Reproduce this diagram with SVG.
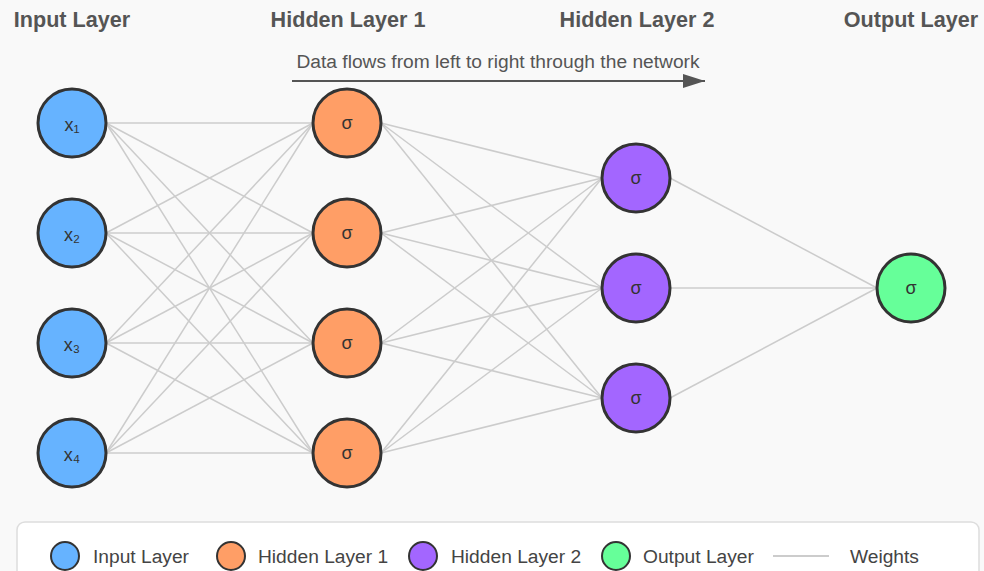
<svg xmlns="http://www.w3.org/2000/svg" width="984" height="571" viewBox="0 0 984 571">
  <defs>
    <style>
      .bg { fill: #f9f9f9; }
      .title { font-family: "Liberation Sans", Arial, sans-serif; font-size: 21.6px; font-weight: bold; fill: #555555; text-anchor: middle; }
      .flow { font-family: "Liberation Sans", Arial, sans-serif; font-size: 19.2px; fill: #555555; text-anchor: middle; }
      .node { stroke: #333333; stroke-width: 3; }
      .in { fill: #66b3ff; }
      .h1 { fill: #ff9e66; }
      .h2 { fill: #a366ff; }
      .out { fill: #66ff99; }
      .lbl { font-family: "Liberation Sans", "DejaVu Sans", Arial, sans-serif; font-size: 18px; fill: #333333; text-anchor: middle; dominant-baseline: central; }
      .w { stroke: #cccccc; stroke-width: 1.5; fill: none; }
      .leg { font-family: "Liberation Sans", Arial, sans-serif; font-size: 19.2px; fill: #444444; }
      .legdot { stroke: #333333; stroke-width: 2; }
    </style>
    <marker id="arrow" markerWidth="10" markerHeight="10" refX="9" refY="5" orient="auto" markerUnits="userSpaceOnUse" viewBox="0 0 10 10">
      <path d="M0,0 L10,5 L0,10 Z" fill="#555555"/>
    </marker>
    <marker id="arrowBig" viewBox="0 0 22 14" refX="22" refY="7" markerWidth="22" markerHeight="14" markerUnits="userSpaceOnUse" orient="auto">
      <path d="M0,0 L22,7 L0,14 Z" fill="#555555"/>
    </marker>
  </defs>

  <rect class="bg" x="0" y="0" width="984" height="571"/>

  <!-- layer headings -->
  <g id="headings">
    <text class="title" x="72" y="27">Input Layer</text>
    <text class="title" x="348" y="27">Hidden Layer 1</text>
    <text class="title" x="637" y="27">Hidden Layer 2</text>
    <text class="title" x="911" y="27">Output Layer</text>
  </g>

  <!-- direction hint -->
  <g id="flow-hint">
    <text class="flow" x="498" y="68">Data flows from left to right through the network</text>
    <line x1="292" y1="81" x2="705" y2="81" stroke="#555555" stroke-width="2" marker-end="url(#arrowBig)"/>
  </g>

  <!-- weighted connections -->
  <g id="connectors" class="w">
    <!-- input -> hidden 1 -->
    <line x1="106" y1="123" x2="313" y2="123"/>
    <line x1="106" y1="123" x2="313" y2="233"/>
    <line x1="106" y1="123" x2="313" y2="343"/>
    <line x1="106" y1="123" x2="313" y2="453"/>
    <line x1="106" y1="233" x2="313" y2="123"/>
    <line x1="106" y1="233" x2="313" y2="233"/>
    <line x1="106" y1="233" x2="313" y2="343"/>
    <line x1="106" y1="233" x2="313" y2="453"/>
    <line x1="106" y1="343" x2="313" y2="123"/>
    <line x1="106" y1="343" x2="313" y2="233"/>
    <line x1="106" y1="343" x2="313" y2="343"/>
    <line x1="106" y1="343" x2="313" y2="453"/>
    <line x1="106" y1="453" x2="313" y2="123"/>
    <line x1="106" y1="453" x2="313" y2="233"/>
    <line x1="106" y1="453" x2="313" y2="343"/>
    <line x1="106" y1="453" x2="313" y2="453"/>
    <!-- hidden 1 -> hidden 2 -->
    <line x1="381" y1="123" x2="602" y2="178"/>
    <line x1="381" y1="123" x2="602" y2="288"/>
    <line x1="381" y1="123" x2="602" y2="398"/>
    <line x1="381" y1="233" x2="602" y2="178"/>
    <line x1="381" y1="233" x2="602" y2="288"/>
    <line x1="381" y1="233" x2="602" y2="398"/>
    <line x1="381" y1="343" x2="602" y2="178"/>
    <line x1="381" y1="343" x2="602" y2="288"/>
    <line x1="381" y1="343" x2="602" y2="398"/>
    <line x1="381" y1="453" x2="602" y2="178"/>
    <line x1="381" y1="453" x2="602" y2="288"/>
    <line x1="381" y1="453" x2="602" y2="398"/>
    <!-- hidden 2 -> output -->
    <line x1="670" y1="178" x2="877" y2="288"/>
    <line x1="670" y1="288" x2="877" y2="288"/>
    <line x1="670" y1="398" x2="877" y2="288"/>
  </g>

  <!-- input layer -->
  <g id="in1"><circle class="node in" cx="72" cy="123" r="34"/><text class="lbl" x="72" y="125">x₁</text></g>
  <g id="in2"><circle class="node in" cx="72" cy="233" r="34"/><text class="lbl" x="72" y="235">x₂</text></g>
  <g id="in3"><circle class="node in" cx="72" cy="343" r="34"/><text class="lbl" x="72" y="345">x₃</text></g>
  <g id="in4"><circle class="node in" cx="72" cy="453" r="34"/><text class="lbl" x="72" y="455">x₄</text></g>

  <!-- hidden layer 1 -->
  <g id="h1a"><circle class="node h1" cx="347" cy="123" r="34"/><text class="lbl" x="347" y="123">σ</text></g>
  <g id="h1b"><circle class="node h1" cx="347" cy="233" r="34"/><text class="lbl" x="347" y="233">σ</text></g>
  <g id="h1c"><circle class="node h1" cx="347" cy="343" r="34"/><text class="lbl" x="347" y="343">σ</text></g>
  <g id="h1d"><circle class="node h1" cx="347" cy="453" r="34"/><text class="lbl" x="347" y="453">σ</text></g>

  <!-- hidden layer 2 -->
  <g id="h2a"><circle class="node h2" cx="636" cy="178" r="34"/><text class="lbl" x="636" y="178">σ</text></g>
  <g id="h2b"><circle class="node h2" cx="636" cy="288" r="34"/><text class="lbl" x="636" y="288">σ</text></g>
  <g id="h2c"><circle class="node h2" cx="636" cy="398" r="34"/><text class="lbl" x="636" y="398">σ</text></g>

  <!-- output layer -->
  <g id="out1"><circle class="node out" cx="911" cy="288" r="34"/><text class="lbl" x="911" y="288">σ</text></g>

  <!-- legend -->
  <g id="legend">
    <rect x="17" y="522" width="962" height="70" rx="8" ry="8" fill="#ffffff" stroke="#dddddd" stroke-width="1.5"/>
    <circle class="legdot in" cx="65" cy="556" r="14"/>
    <text class="leg" x="93" y="563">Input Layer</text>
    <circle class="legdot h1" cx="231" cy="556" r="14"/>
    <text class="leg" x="258" y="563">Hidden Layer 1</text>
    <circle class="legdot h2" cx="423" cy="556" r="14"/>
    <text class="leg" x="451" y="563">Hidden Layer 2</text>
    <circle class="legdot out" cx="616" cy="556" r="14"/>
    <text class="leg" x="643" y="563">Output Layer</text>
    <line x1="773" y1="556" x2="829" y2="556" stroke="#cccccc" stroke-width="2"/>
    <text class="leg" x="850" y="563">Weights</text>
  </g>
</svg>
